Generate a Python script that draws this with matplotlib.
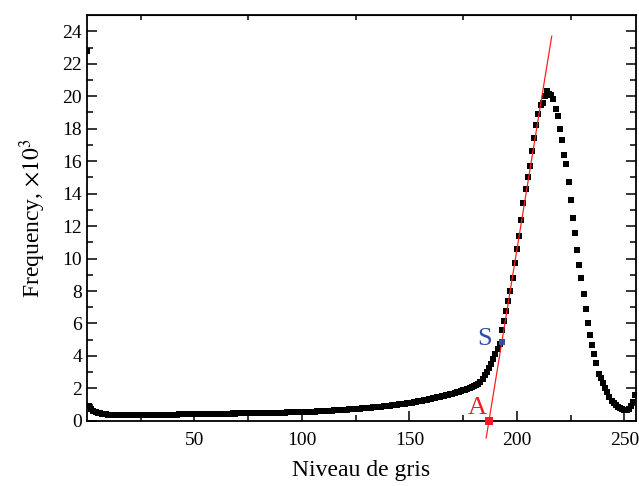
import matplotlib

matplotlib.use("Agg")
import matplotlib.pyplot as plt
import numpy as np

# grey-level histogram (counts in thousands), one value per level 0..255
freq = [
    22.8,
    0.90, 0.75, 0.62, 0.55, 0.50, 0.46, 0.43, 0.41, 0.40, 0.39,
    0.38, 0.37, 0.37, 0.36, 0.36, 0.36, 0.35, 0.35, 0.35, 0.35,
    0.35, 0.35, 0.36, 0.35, 0.36, 0.36, 0.36, 0.37, 0.36, 0.37,
    0.37, 0.37, 0.38, 0.37, 0.38, 0.38, 0.38, 0.39, 0.38, 0.39,
    0.39, 0.39, 0.40, 0.40, 0.40, 0.40, 0.41, 0.41, 0.41, 0.42,
    0.41, 0.42, 0.42, 0.42, 0.43, 0.42, 0.43, 0.43, 0.44, 0.43,
    0.44, 0.44, 0.44, 0.45, 0.44, 0.45, 0.45, 0.46, 0.45, 0.46,
    0.46, 0.46, 0.46, 0.47, 0.47, 0.47, 0.47, 0.48, 0.48, 0.48,
    0.48, 0.49, 0.49, 0.49, 0.49, 0.50, 0.50, 0.50, 0.51, 0.51,
    0.51, 0.51, 0.52, 0.52, 0.52, 0.53, 0.53, 0.53, 0.54, 0.54,
    0.55, 0.55, 0.56, 0.56, 0.57, 0.57, 0.58, 0.59, 0.59, 0.60,
    0.61, 0.62, 0.62, 0.63, 0.64, 0.65, 0.66, 0.67, 0.68, 0.69,
    0.70, 0.71, 0.71, 0.72, 0.73, 0.74, 0.75, 0.77, 0.78, 0.79,
    0.81, 0.82, 0.83, 0.84, 0.86, 0.87, 0.88, 0.90, 0.91, 0.93,
    0.94, 0.96, 0.97, 0.99, 1.01, 1.03, 1.05, 1.07, 1.09, 1.11,
    1.13, 1.15, 1.18, 1.20, 1.23, 1.25, 1.28, 1.30, 1.33, 1.36,
    1.39, 1.42, 1.45, 1.48, 1.51, 1.54, 1.57, 1.60, 1.64, 1.68,
    1.72, 1.76, 1.80, 1.84, 1.88, 1.93, 1.98, 2.03, 2.09, 2.15,
    2.20, 2.30, 2.42, 2.58, 2.80, 3.00, 3.25, 3.50, 3.80, 4.10,
    4.45, 4.75, 5.60, 6.15, 6.75, 7.40, 8.00, 8.80, 9.70, 10.6,
    11.4, 12.4, 13.4, 14.3, 15.0, 15.7, 16.6, 17.4, 18.2, 18.9,
    19.45, 19.6, 20.0, 20.3, 20.15, 20.1, 19.8, 19.2, 18.8, 18.0,
    17.3, 16.4, 15.8, 14.7, 13.6, 12.5, 11.6, 10.5, 9.6, 8.8,
    7.8, 6.9, 6.0, 5.3, 4.7, 4.15, 3.55, 2.9, 2.65, 2.35,
    2.05, 1.75, 1.5, 1.25, 1.1, 0.98, 0.85, 0.77, 0.72, 0.68,
    0.68, 0.72, 0.9, 1.15, 1.6,
]
levels = np.arange(len(freq))

# tangent construction: point S on the rising edge, A where the tangent hits zero
point_s = (193, 4.87)
point_a = (187, 0.0)
tangent_y = (-1.05, 23.7)

plt.rcParams["font.family"] = ["Liberation Serif", "DejaVu Serif"]
plt.rcParams["mathtext.fontset"] = "stix"

fig = plt.figure(figsize=(6.39, 4.86), dpi=100)
ax = fig.add_axes([0.136, 0.134, 0.859, 0.835])

ax.plot(levels, freq, "s", color="black", ms=3.8, mew=0)

slope = (point_s[1] - point_a[1]) / (point_s[0] - point_a[0])
tx = [point_a[0] + y / slope for y in tangent_y]
ax.plot(tx, tangent_y, color="#ff2020", lw=0.9, clip_on=False)

ax.plot(*point_s, "s", color="#2f4ea8", ms=4.8, mew=0, zorder=5)
ax.plot(*point_a, "s", color="#ee1c24", ms=5.4, mew=0, zorder=5, clip_on=False)
ax.text(point_s[0] - 4.5, point_s[1] + 0.2, "S", color="#2f4ea8", fontsize=19,
        ha="right", va="center")
ax.text(point_a[0] - 1, point_a[1] + 0.1, "A", color="#ee1c24", fontsize=19,
        ha="right", va="bottom")

ax.set_xlim(0, 255.3)
ax.set_ylim(0, 25)
ax.set_xticks([50, 100, 150, 200, 250])
ax.set_xticks(np.arange(25, 256, 50), minor=True)
ax.set_yticks(np.arange(0, 25, 2))
ax.set_yticks(np.arange(1, 25, 2), minor=True)
ax.tick_params(which="major", direction="in", length=7, width=1.1,
               labelsize=14, right=True)
ax.tick_params(which="minor", direction="in", length=4.5, width=1.1, right=True)
ax.tick_params(axis="x", which="major", pad=8)

# the top axis carries only short unlabelled ticks
top = ax.secondary_xaxis("top")
top.set_xticks(np.arange(25, 256, 50))
top.set_xticks([], minor=True)
top.tick_params(direction="in", length=3.5, width=1.1, labeltop=False)

for side in ax.spines.values():
    side.set_linewidth(1.3)

ax.set_xlabel("Niveau de gris", fontsize=17, labelpad=8)
ax.set_ylabel(r"Frequency, $\times 10^3$", fontsize=17, labelpad=10)

fig.savefig("out.png", dpi=100)
plt.close(fig)
